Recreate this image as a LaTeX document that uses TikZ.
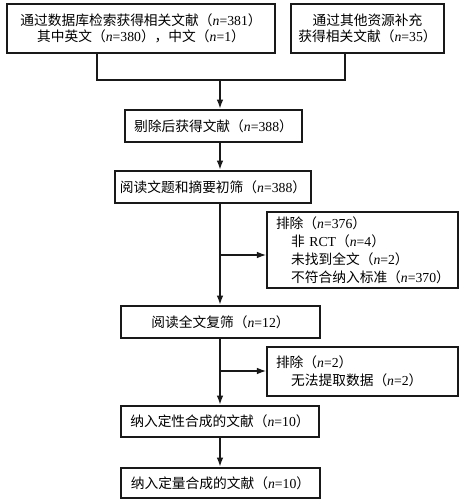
\documentclass[tikz,border=0pt]{standalone}
\usepackage{fontspec}
\setmainfont{Liberation Serif}
\newfontfamily\cjk{Noto Sans CJK SC}
\usetikzlibrary{arrows.meta,positioning}
\newcommand{\nv}[1]{（{\rmfamily\textit{n}=#1}）}
\tikzset{
  flowline/.style={line width=1.6pt, draw=black!90},
  flowarrow/.style={-{Latex[length=7pt,width=5pt]}, line width=1.6pt, draw=black!90},
  sidearrow/.style={-{Latex[length=7pt,width=5pt]}, line width=1.1pt, draw=black!90},
  mainbox/.style={draw=black!90, line width=1.6pt, fill=white, align=center,
    inner sep=2pt, font=\cjk\fontsize{10.3}{12.5}\selectfont},
  exclbox/.style={draw=black!90, line width=1.1pt, fill=white, align=left,
    inner xsep=6.75pt, text width=129.75pt, font=\cjk\fontsize{10.3}{13.5}\selectfont}
}

\begin{document}
\begin{tikzpicture}[x=0.75pt, y=-0.75pt]
  \useasboundingbox[fill=white] (0,0) rectangle (464,503);

  % sources
  \node[mainbox, minimum width=201pt, minimum height=36.75pt] (dbsrc) at (141,28.5)
    {通过数据库检索获得相关文献\nv{381}\\其中英文\nv{380}，中文\nv{1}};
  \node[mainbox, minimum width=114.75pt, minimum height=36.75pt] (othsrc) at (367.5,28.5)
    {通过其他资源补充\\获得相关文献\nv{35}};

  % main column
  \node[mainbox, minimum width=132.75pt, minimum height=24pt] (dedup) at (213.5,126)
    {剔除后获得文献\nv{388}};
  \node[mainbox, minimum width=147pt, minimum height=24pt] (title) at (213,187)
    {阅读文题和摘要初筛\nv{388}};
  \node[mainbox, minimum width=149.25pt, minimum height=24pt] (full) at (220.5,322)
    {阅读全文复筛\nv{12}};
  \node[mainbox, minimum width=148.5pt, minimum height=23.25pt] (qual) at (220,421.5)
    {纳入定性合成的文献\nv{10}};
  \node[mainbox, minimum width=149.25pt, minimum height=22.5pt] (quant) at (220.5,483)
    {纳入定量合成的文献\nv{10}};

  % exclusions
  \node[exclbox, minimum height=57pt] (excl1) at (362.5,250)
    {排除\nv{376}\\
     \hspace*{1.1em}非 {\rmfamily RCT}\nv{4}\\
     \hspace*{1.1em}未找到全文\nv{2}\\
     \hspace*{1.1em}不符合纳入标准\nv{370}};
  \node[exclbox, minimum height=36.75pt] (excl2) at (362.5,371.5)
    {排除\nv{2}\\
     \hspace*{1.1em}无法提取数据\nv{2}};

  \coordinate (jl) at (97,80);
  \coordinate (jr) at (345,80);
  \coordinate (axis) at (220,80);
  \coordinate (br1) at (220,255);
  \coordinate (br2) at (220,371);

  \draw[flowline] (dbsrc.south -| jl) -- (jl) -- (jr) -- (othsrc.south -| jr);
  \draw[flowarrow] (axis) -- (axis |- dedup.north);
  \draw[flowarrow] (axis |- dedup.south) -- (axis |- title.north);
  \draw[flowarrow] (axis |- title.south) -- (axis |- full.north);
  \draw[sidearrow] (br1) -- (br1 -| excl1.west);
  \draw[flowarrow] (axis |- full.south) -- (axis |- qual.north);
  \draw[sidearrow] (br2) -- (br2 -| excl2.west);
  \draw[flowarrow] (axis |- qual.south) -- (axis |- quant.north);
\end{tikzpicture}
\end{document}
